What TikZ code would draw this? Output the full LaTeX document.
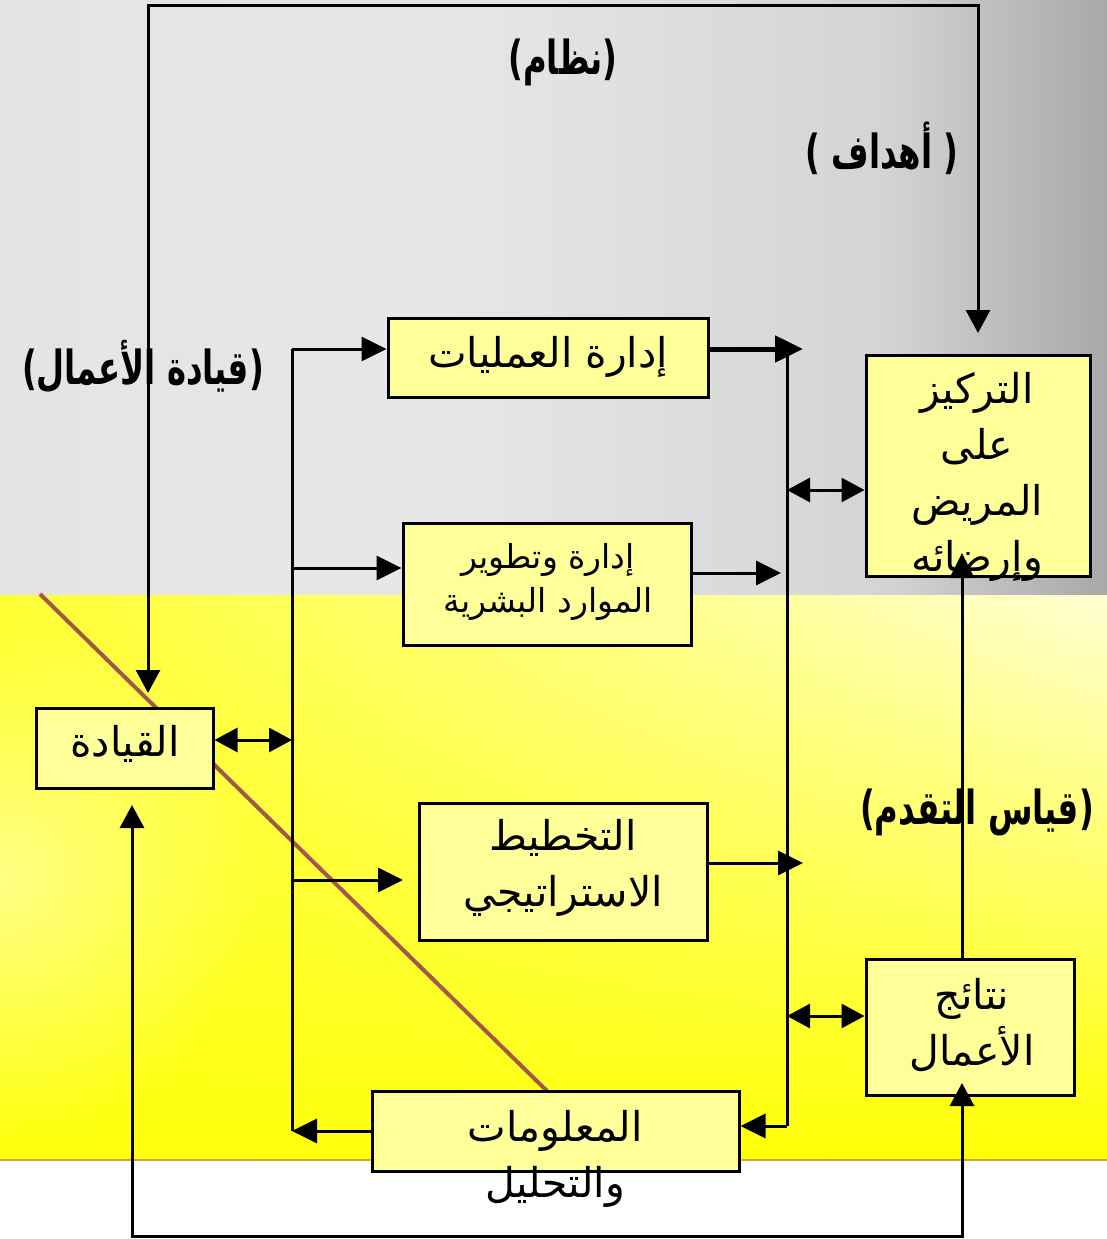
\documentclass[tikz,border=0pt]{standalone}
\usepackage{fontspec}
\usepackage{graphicx}
\usetikzlibrary{arrows.meta,shadings,fadings}
\newfontfamily\arabicfont[Script=Arabic]{DejaVu Sans}
\TeXXeTstate=1
\newcommand{\myrtl}[1]{\beginR#1\endR}
\newcommand{\tallbox}[1]{\scalebox{0.95}[1.38]{#1}}
\definecolor{gA}{HTML}{E4E4E4}
\definecolor{gB}{HTML}{E7E7E7}
\definecolor{gC}{HTML}{D4D4D4}
\definecolor{gD}{HTML}{A8A8A8}
\definecolor{yUL}{RGB}{255,255,50}
\definecolor{yUR}{RGB}{255,255,210}
\definecolor{yLL}{RGB}{255,255,15}
\definecolor{yLR}{RGB}{255,255,0}
\definecolor{boxfill}{HTML}{FFFF99}
\definecolor{diag}{RGB}{165,85,75}
\definecolor{edge}{HTML}{E0A030}
\pgfdeclarehorizontalshading{grayshade}{100bp}{color(0bp)=(gA); color(25bp)=(gA); color(45bp)=(gB); color(65bp)=(gC); color(75bp)=(gD); color(100bp)=(gD)}
\tikzfading[name=glowfade, inner color=transparent!55, outer color=transparent!100]
\tikzset{
  box/.style={draw=black, line width=3pt, fill=boxfill, inner sep=0pt},
  txt/.style={font=\arabicfont\fontsize{41}{56}\selectfont, align=center, inner sep=0pt},
  stxt/.style={font=\arabicfont\fontsize{33}{44}\selectfont, align=center, inner sep=0pt},
  lbl/.style={font=\arabicfont\bfseries\fontsize{34}{40}\selectfont, inner sep=0pt},
  conn/.style={line width=3pt},
  arr/.style={conn, -{Triangle[length=25pt,width=24pt]}},
  darr/.style={conn, {Triangle[length=23pt,width=24pt]}-{Triangle[length=23pt,width=24pt]}},
}
\begin{document}
\begin{tikzpicture}[x=1pt,y=-1pt]
\useasboundingbox (0,0) rectangle (1107,1239);
% background
\fill[white] (0,0) rectangle (1107,1239);
\shade[shading=grayshade] (0,0) rectangle (1107,595);
\shade[upper left=yUL, upper right=yUR, lower left=yLL, lower right=yLR]
       (0,595) rectangle (1107,1160);
\begin{scope}
  \clip (0,595) rectangle (1107,1160);
  \fill[white, path fading=glowfade] (0,880) circle (260);
\end{scope}
\draw[edge, line width=1.5pt] (0,1160) -- (1107,1160);
\draw[diag, line width=4pt] (40,594) -- (547,1091);

% boxes
\node[box, minimum width=320pt, minimum height=79pt] (ops) at (548,357.5) {};
\node[box, minimum width=288pt, minimum height=122pt] (hr) at (547,584) {};
\node[box, minimum width=288pt, minimum height=137pt] (plan) at (563,871.5) {};
\node[box, minimum width=367pt, minimum height=80pt] (info) at (555.5,1131) {};
\node[box, minimum width=177pt, minimum height=80pt] (lead) at (124.5,748) {};
\node[box, minimum width=224pt, minimum height=221pt] (focus) at (978,465.5) {};
\node[box, minimum width=208pt, minimum height=136pt] (res) at (970,1027) {};

% box texts
\node[txt] (opsT) at (548,357) {\myrtl{إدارة العمليات}};
\node[stxt] (hrT) at (548,582) {\myrtl{إدارة وتطوير}\\\myrtl{الموارد البشرية}};
\node[txt] (planT) at (563,868) {\myrtl{التخطيط}\\\myrtl{الاستراتيجي}};
\node[txt] (infoT) at (555,1159) {\myrtl{المعلومات}\\\myrtl{والتحليل}};
\node[txt] (leadT) at (125,744) {\myrtl{القيادة}};
\node[txt] (focusT) at (977,477) {\myrtl{التركيز}\\\myrtl{على}\\\myrtl{المريض}\\\myrtl{وإرضائه}};
\node[txt] (resT) at (972,1025) {\myrtl{نتائج}\\\myrtl{الأعمال}};

% labels
\node[lbl] (l1) at (563,62) {\tallbox{)\myrtl{نظام}(}};
\node[lbl] (l2) at (882,148) {\tallbox{) \myrtl{أهداف} (}};
\node[lbl] (l3) at (143,367) {\tallbox{)\myrtl{قيادة الأعمال}(}};
\node[lbl] (l4) at (977,812) {\tallbox{)\myrtl{قياس التقدم}(}};

% coordinates
\coordinate (lt) at (292,349);
\coordinate (lb) at (292,1131);
\coordinate (lm2) at (292,568);
\coordinate (lm3) at (292,880);
\coordinate (lm3e) at (403,880);
\coordinate (lm4) at (292,740);
\coordinate (rt) at (787,349);
\coordinate (rte) at (803,349);
\coordinate (rb) at (787,1126);
\coordinate (r2) at (781,573);
\coordinate (r3) at (803,863);
\coordinate (r4) at (787,490);
\coordinate (r5) at (787,1016);
\coordinate (t1) at (148,693);
\coordinate (t2) at (978,333);
\coordinate (b1) at (132,805);
\coordinate (b2) at (962,1083);
\coordinate (u1) at (962,959);
\coordinate (u2) at (962,553);

% left bus
\draw[conn] (lt) -- (lb);
\draw[arr] (lt) -- (lt -| ops.west);
\draw[arr] (lm2) -- (lm2 -| hr.west);
\draw[arr] (lm3) -- (lm3e);
\draw[arr] (info.west |- lb) -- (lb);
\draw[darr] (lead.east |- lm4) -- (lm4);

% right bus
\draw[conn] (rt) -- (rb);
\draw[line width=5pt, -{Triangle[length=28pt,width=26pt]}] (ops.east |- rt) -- (rte);
\draw[arr] (hr.east |- r2) -- (r2);
\draw[arr] (plan.east |- r3) -- (r3);
\draw[arr] (rb) -- (rb -| info.east);
\draw[darr] (r4) -- (r4 -| focus.west);
\draw[darr] (r5) -- (r5 -| res.west);

% loops
\draw[darr] (t1) -- (148,6) -- (978,6) -- (t2);
\draw[darr] (b1) -- (132,1236) -- (962,1236) -- (b2);
\draw[arr] (u1) -- (u2);
\end{tikzpicture}
\end{document}
